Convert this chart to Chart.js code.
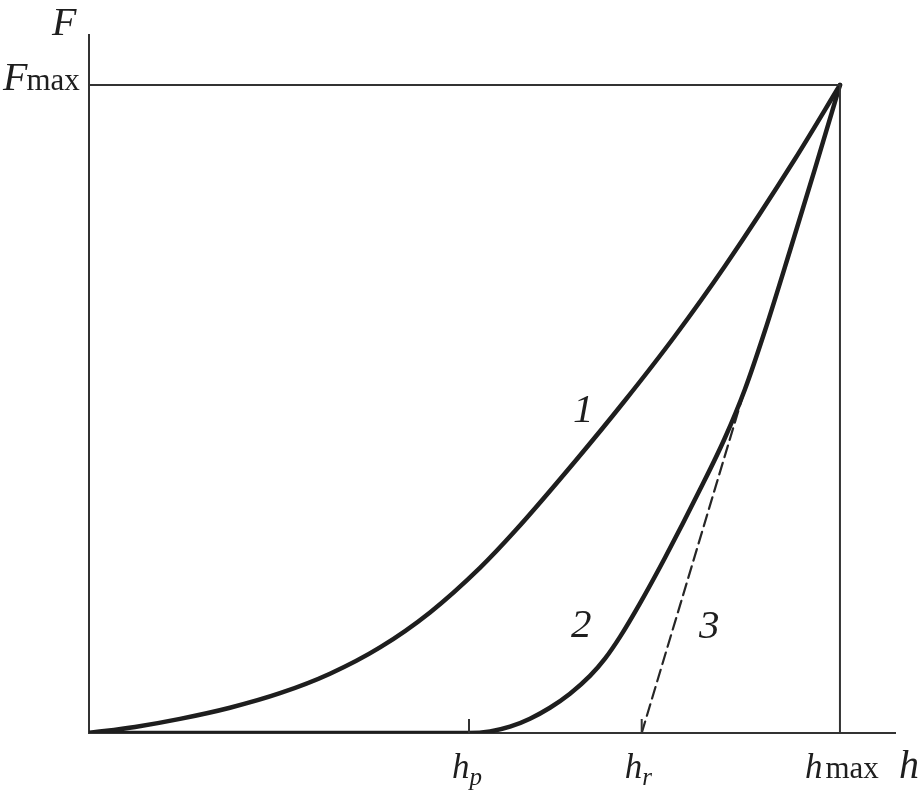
<!DOCTYPE html>
<html>
<head>
<meta charset="utf-8">
<script src="https://cdn.jsdelivr.net/npm/chart.js@4.4.1/dist/chart.umd.min.js"></script>
<style>
  html, body { margin: 0; padding: 0; background: #fff; }
  canvas { display: block; }
</style>
</head>
<body>
<canvas id="c" width="919" height="799"></canvas>
<script>
// h = depth (h_max = 1), F = load (F_max = 1)
const loadX = [0, 0.0613, 0.1212, 0.1877, 0.2543, 0.3209, 0.3875, 0.4541, 0.5206, 0.5672, 0.6471, 0.7137, 0.7803, 0.8469, 0.9401, 1];
const loadY = [0, 0.0093, 0.0218, 0.0390, 0.0614, 0.0915, 0.1321, 0.1861, 0.2548, 0.3116, 0.4190, 0.5131, 0.6127, 0.7207, 0.8858, 1];

const unloadX = [0, 0.5060, 0.5340, 0.5606, 0.5872, 0.6138, 0.6405, 0.6671, 0.6871, 0.7071, 0.7337, 0.7670, 0.8136, 0.8469, 0.8735, 0.9001, 0.9334, 0.9667, 1];
const unloadY = [0, 0, 0.0025, 0.0097, 0.0221, 0.0390, 0.0606, 0.0881, 0.1147, 0.1483, 0.2000, 0.2704, 0.3756, 0.4557, 0.5306, 0.6208, 0.7443, 0.8707, 1];

const tangentX = [0.736, 0.875];
const tangentY = [0, 0.537];

const hTicks = [0.506, 0.736, 1];
const hTickLabels = [['h', 'p'], ['h', 'r'], ['h', 'max']];
const fMax = 1;

const toPts = (xs, ys) => xs.map((x, i) => ({ x: x, y: ys[i] }));

const serif = '"Liberation Serif", "DejaVu Serif", serif';
const ink = '#1e1e1e';

// draws the tick marks and all the lettering
const annotations = {
    id: 'annotations',
    afterDatasetsDraw(chart) {
        const ctx = chart.ctx;
        const xs = chart.scales.x;
        const ys = chart.scales.y;
        const y0 = ys.getPixelForValue(0);
        ctx.save();
        ctx.strokeStyle = '#333';
        ctx.lineWidth = 2;
        hTicks.slice(0, 2).forEach(v => {
            const px = xs.getPixelForValue(v);
            ctx.beginPath();
            ctx.moveTo(px, y0);
            ctx.lineTo(px, y0 - 14);
            ctx.stroke();
        });

        ctx.fillStyle = ink;
        ctx.textBaseline = 'alphabetic';
        ctx.textAlign = 'left';

        // axis names
        ctx.font = 'italic 40px ' + serif;
        ctx.fillText('F', 52, 35);
        ctx.fillText('h', 899, 778);

        // F_max
        const fy = ys.getPixelForValue(fMax);
        ctx.font = 'italic 40px ' + serif;
        ctx.fillText('F', 3, fy + 5);
        let w = ctx.measureText('F').width;
        ctx.font = '31px ' + serif;
        ctx.fillText('max', 2 + w, fy + 5);

        // h labels
        hTicks.forEach((v, i) => {
            const [main, sub] = hTickLabels[i];
            const px = xs.getPixelForValue(v);
            const left = sub === 'max' ? px - 35 : px - 17;
            ctx.font = 'italic 35px ' + serif;
            ctx.fillText(main, left, 778);
            const mw = ctx.measureText(main).width;
            if (sub === 'max') {
                ctx.font = '31px ' + serif;
                ctx.fillText(sub, left + mw + 3, 778);
            } else {
                ctx.font = 'italic 25px ' + serif;
                ctx.fillText(sub, left + mw, 785);
            }
        });

        // curve numbers
        ctx.font = 'italic 41px ' + serif;
        ctx.fillText('1', 573, 422);
        ctx.fillText('2', 571, 637);
        ctx.fillText('3', 699, 638);
        ctx.restore();
    }
};

new Chart(document.getElementById('c'), {
    type: 'line',
    data: {
        datasets: [
            {
                data: [{ x: 0, y: fMax }, { x: hTicks[2], y: fMax }, { x: hTicks[2], y: 0 }],
                borderColor: '#333', borderWidth: 2, pointRadius: 0, tension: 0
            },
            {
                data: toPts(loadX, loadY),
                borderColor: ink, borderWidth: 4.5, pointRadius: 0,
                cubicInterpolationMode: 'monotone'
            },
            {
                data: toPts(unloadX, unloadY),
                borderColor: ink, borderWidth: 4.5, pointRadius: 0,
                cubicInterpolationMode: 'monotone'
            },
            {
                data: toPts(tangentX, tangentY),
                borderColor: '#262626', borderWidth: 2.2, pointRadius: 0,
                borderDash: [12, 6]
            }
        ]
    },
    options: {
        responsive: false,
        animation: false,
        devicePixelRatio: 1,
        layout: { padding: { top: 35, right: 24, left: 0, bottom: 0 } },
        plugins: { legend: { display: false }, tooltip: { enabled: false } },
        elements: { line: { borderCapStyle: 'round', borderJoinStyle: 'round' } },
        scales: {
            x: {
                type: 'linear', min: 0, max: 1.0733,
                grid: { display: false },
                ticks: { display: false },
                border: { display: true, color: '#333', width: 2 },
                afterFit: s => { s.height = 66; }
            },
            y: {
                type: 'linear', min: 0, max: 1.0772,
                grid: { display: false },
                ticks: { display: false },
                border: { display: true, color: '#333', width: 2 },
                afterFit: s => { s.width = 89; }
            }
        }
    },
    plugins: [annotations]
});
</script>
</body>
</html>
